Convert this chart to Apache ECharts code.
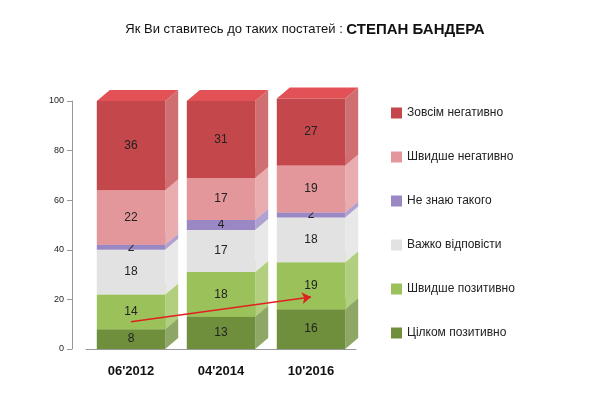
<!DOCTYPE html>
<html><head><meta charset="utf-8">
<script src="https://cdn.jsdelivr.net/npm/echarts@6/dist/echarts.min.js"></script>
<style>html,body{margin:0;background:#fff}#c{width:610px;height:402px}</style>
</head><body><div id="c"></div>
<script>
const categories = ["06'2012", "04'2014", "10'2016"];
const seriesNames = ["Цілком позитивно","Швидше позитивно","Важко відповісти","Не знаю такого","Швидше негативно","Зовсім негативно"];
const fullyPositive = [8, 13, 16];
const ratherPositive = [14, 18, 19];
const hardToSay = [18, 17, 18];
const dontKnow = [2, 4, 2];
const ratherNegative = [22, 17, 19];
const fullyNegative = [36, 31, 27];
const trendLine = [[0, 11], [2, 21]];
const yTicks = [0, 20, 40, 60, 80, 100];

const values = [fullyPositive, ratherPositive, hardToSay, dontKnow, ratherNegative, fullyNegative];
const colors = ['#6f8f3c', '#9bc25a', '#e2e2e2', '#9a88c4', '#e3979a', '#c4474b'];

const base = [0, 0, 0];
const series = values.map((arr, si) => {
  const data = arr.map((v, i) => { const d = [i, base[i], base[i] + v, v]; base[i] += v; return d; });
  const col = colors[si];
  return {
    type: 'custom', name: seriesNames[si], z: 2 + si,
    itemStyle: { color: col },
    data: data,
    renderItem: (params, api) => {
      const x = api.value(0), b = api.value(1), t = api.value(2);
      const p0 = api.coord([x, b]), p1 = api.coord([x, t]);
      const w = api.size([1, 0])[0] * 0.76;
      const l = p0[0] - w / 2, r = p0[0] + w / 2;
      const dx = 13, dy = -11;
      return { type: 'group', children: [
        { type: 'polygon', shape: { points: [[r, p0[1]], [r + dx, p0[1] + dy], [r + dx, p1[1] + dy], [r, p1[1]]] },
          style: { fill: echarts.color.lift(col, 0.22) } },
        { type: 'polygon', shape: { points: [[l, p1[1]], [r, p1[1]], [r + dx, p1[1] + dy], [l + dx, p1[1] + dy]] },
          style: { fill: echarts.color.lift(col, -0.15) } },
        { type: 'rect', shape: { x: l, y: p1[1], width: w, height: p0[1] - p1[1] },
          style: { fill: col } },
        { type: 'text', x: p0[0], y: (p0[1] + p1[1]) / 2,
          style: { text: String(api.value(3)), fill: '#222', font: '12px "Liberation Sans", Arial', align: 'center', verticalAlign: 'middle' } }
      ]};
    }
  };
});
series.push({
  type: 'line', data: [], silent: true,
  markLine: {
    silent: true, symbol: ['none', 'arrow'], symbolSize: 9, label: { show: false },
    lineStyle: { color: '#e02020', width: 1.5, type: 'solid' },
    data: [[{ coord: trendLine[0] }, { coord: trendLine[1] }]]
  },
  z: 20
});

const chart = echarts.init(document.getElementById('c'));
chart.setOption({
  animation: false,
  title: {
    left: 'center', top: 17,
    text: '{a|Як Ви ставитесь до таких постатей : }{b|СТЕПАН БАНДЕРА}',
    textStyle: { rich: {
      a: { fontSize: 13, fontWeight: 'normal', color: '#111', fontFamily: '"Liberation Sans", Arial' },
      b: { fontSize: 15, fontWeight: 'bold', color: '#111', fontFamily: '"Liberation Sans", Arial' }
    } }
  },
  legend: {
    data: seriesNames.slice().reverse(), orient: 'vertical', left: 386, top: 102,
    itemWidth: 11, itemHeight: 11, itemGap: 32, icon: 'rect',
    textStyle: { fontSize: 12, color: '#222', fontFamily: '"Liberation Sans", Arial' }
  },
  grid: { left: 86, width: 270, top: 101, bottom: 53 },
  xAxis: {
    type: 'category', data: categories,
    axisLine: { lineStyle: { color: '#999' } }, axisTick: { show: false },
    axisLabel: { fontSize: 13, fontWeight: 'bold', color: '#111', margin: 16 }
  },
  yAxis: {
    type: 'value', min: yTicks[0], max: yTicks[yTicks.length - 1], interval: 20, offset: 14,
    axisLine: { show: true, lineStyle: { color: '#999' } }, axisTick: { show: true, lineStyle: { color: '#999' } },
    splitLine: { show: false },
    axisLabel: { fontSize: 9, color: '#222' }
  },
  series: series
});
</script></body></html>
